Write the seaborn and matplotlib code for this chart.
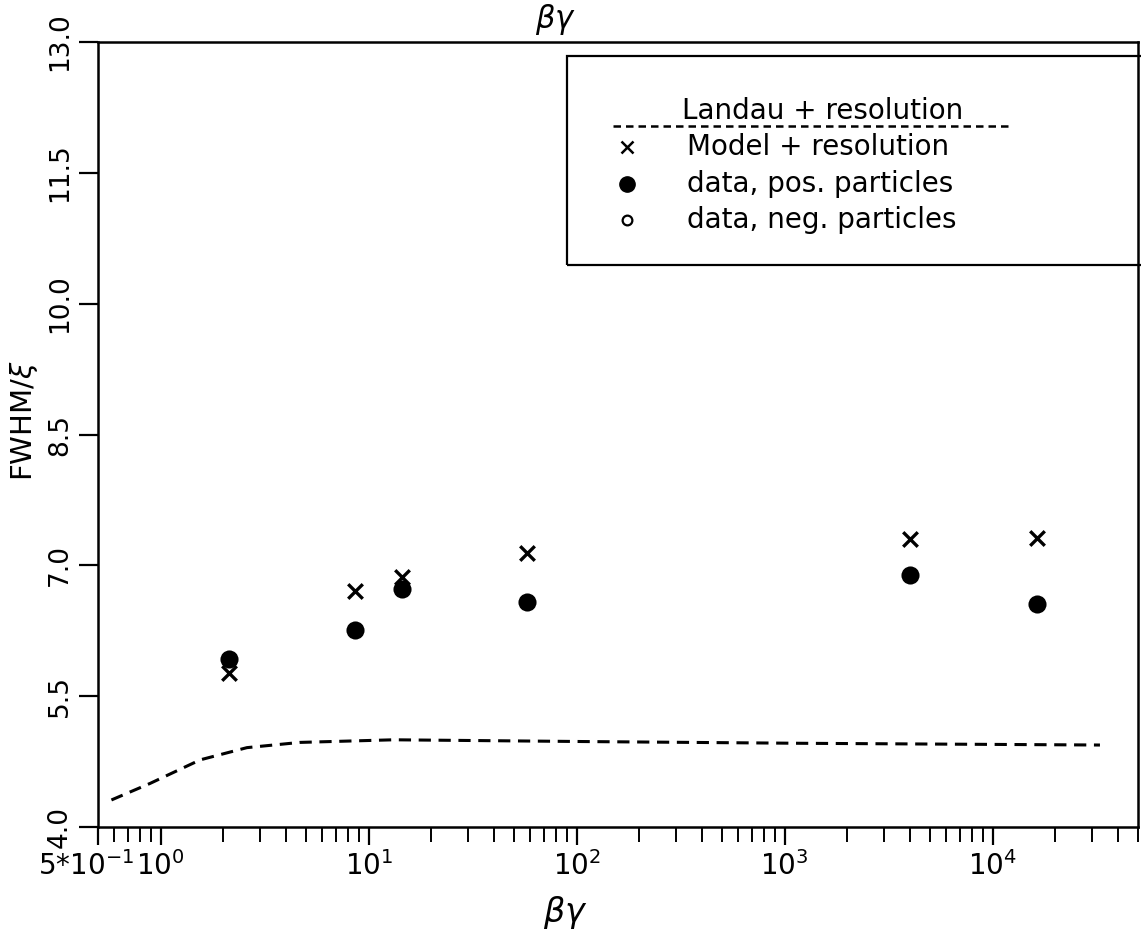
import numpy as np
import pandas as pd
import matplotlib
matplotlib.use("Agg")
import matplotlib.pyplot as plt
from matplotlib.lines import Line2D
from matplotlib.patches import Rectangle
from matplotlib.transforms import ScaledTranslation
from matplotlib.ticker import FixedLocator, FixedFormatter, LogLocator, NullFormatter
import seaborn as sns

# Momentum points (beta*gamma) and FWHM/xi values
bg_points = [2.13, 8.6, 14.5, 57.8, 4010, 16300]
model_fwhm = [5.77, 6.71, 6.87, 7.14, 7.30, 7.31]
pos_fwhm = [5.93, 6.26, 6.73, 6.58, 6.89, 6.56]

# Landau + resolution curve
landau_bg = [0.58, 0.89, 1.55, 2.6, 4.67, 13.2, 107, 1186, 32800]
landau_fwhm = [4.31, 4.50, 4.77, 4.91, 4.97, 5.00, 4.98, 4.96, 4.94]

x_ticks = [0.5, 1, 10, 100, 1000, 10000]
x_tick_labels = [r"5$*$10$^{-1}$", r"10$^{0}$", r"10$^{1}$", r"10$^{2}$", r"10$^{3}$", r"10$^{4}$"]
y_ticks = [4.0, 5.5, 7.0, 8.5, 10.0, 11.5, 13.0]

legend_labels = ["Landau + resolution", "Model + resolution",
                 "data, pos. particles", "data, neg. particles"]

sns.set_theme(style="ticks")
plt.rcParams["font.family"] = ["DejaVu Sans"]
plt.rcParams["mathtext.fontset"] = "dejavusans"
plt.rcParams["text.color"] = "black"
plt.rcParams["axes.labelcolor"] = "black"
plt.rcParams["xtick.color"] = "black"
plt.rcParams["ytick.color"] = "black"

fig = plt.figure(figsize=(11.41, 9.35), dpi=100)
ax = fig.add_axes([0.0859, 0.1155, 0.9115, 0.8395])

df_pts = pd.DataFrame({"bg": bg_points, "model": model_fwhm, "pos": pos_fwhm})
df_landau = pd.DataFrame({"bg": landau_bg, "fwhm": landau_fwhm})

sns.lineplot(data=df_landau, x="bg", y="fwhm", ax=ax, color="black",
             lw=2.2, linestyle=(0, (4, 2.5)), sort=True)
sns.scatterplot(data=df_pts, x="bg", y="model", ax=ax, marker="x",
                s=110, color="black", linewidth=2.4)
sns.scatterplot(data=df_pts, x="bg", y="pos", ax=ax, marker="o",
                s=170, color="black", edgecolor="black", linewidth=0)

ax.set_xscale("log")
ax.set_xlim(0.5, 5e4)
ax.set_ylim(4.0, 13.0)

ax.xaxis.set_major_locator(FixedLocator(x_ticks))
ax.xaxis.set_major_formatter(FixedFormatter(x_tick_labels))
ax.xaxis.set_minor_locator(LogLocator(base=10, subs=np.arange(2, 10), numticks=20))
ax.xaxis.set_minor_formatter(NullFormatter())
ax.set_yticks(y_ticks)
ax.set_yticklabels([f"{v:.1f}" for v in y_ticks], rotation=90, va="center")

ax.tick_params(axis="x", which="major", direction="out", length=13, width=1.6,
               labelsize=20, pad=4, colors="black")
ax.tick_params(axis="x", which="minor", direction="out", length=11, width=1.4)
ax.tick_params(axis="y", which="major", direction="out", length=14, width=1.6,
               labelsize=19, pad=4, colors="black")

# nudge the first x label left so it sits beside the 10^0 label
fig.canvas.draw()
first_lab = ax.get_xticklabels()[0]
first_lab.set_transform(first_lab.get_transform() +
                        ScaledTranslation(-12 / 100, 0, fig.dpi_scale_trans))

for sp in ax.spines.values():
    sp.set_visible(True)
    sp.set_linewidth(1.8)
    sp.set_color("black")

ax.set_xlabel(r"$\beta\gamma$", fontsize=24)
ax.xaxis.set_label_coords(0.449, -0.085)
ax.set_ylabel(r"FWHM/$\xi$", fontsize=21)
ax.yaxis.set_label_coords(-0.056, 0.518)

# hand-made legend box
box = Rectangle((0.451, 0.716), 0.56, 0.266, transform=ax.transAxes,
                fill=False, edgecolor="black", lw=1.6, clip_on=False, zorder=5)
ax.add_patch(box)
ax.add_line(Line2D([0.495, 0.877], [0.893, 0.893], transform=ax.transAxes,
                   color="black", lw=1.8, linestyle=(0, (3, 2))))
ax.text(0.5615, 0.912, legend_labels[0], transform=ax.transAxes,
        fontsize=20, va="center", ha="left")
entry_y = [0.866, 0.819, 0.773]
ax.add_line(Line2D([0.509], [entry_y[0]], transform=ax.transAxes, marker="x",
                   markersize=8, mew=1.8, color="black", linestyle="none"))
ax.add_line(Line2D([0.509], [entry_y[1]], transform=ax.transAxes, marker="o",
                   markersize=11, color="black", linestyle="none"))
ax.add_line(Line2D([0.509], [entry_y[2]], transform=ax.transAxes, marker="o",
                   markersize=7, mew=1.6, markerfacecolor="white",
                   markeredgecolor="black", linestyle="none"))
for y, lab in zip(entry_y, legend_labels[1:]):
    ax.text(0.566, y, lab, transform=ax.transAxes, fontsize=20,
            va="center", ha="left")

fig.text(0.487, 0.998, r"$\beta\gamma$", fontsize=22, ha="center", va="top")

fig.savefig("out.png", dpi=100, facecolor="white")
